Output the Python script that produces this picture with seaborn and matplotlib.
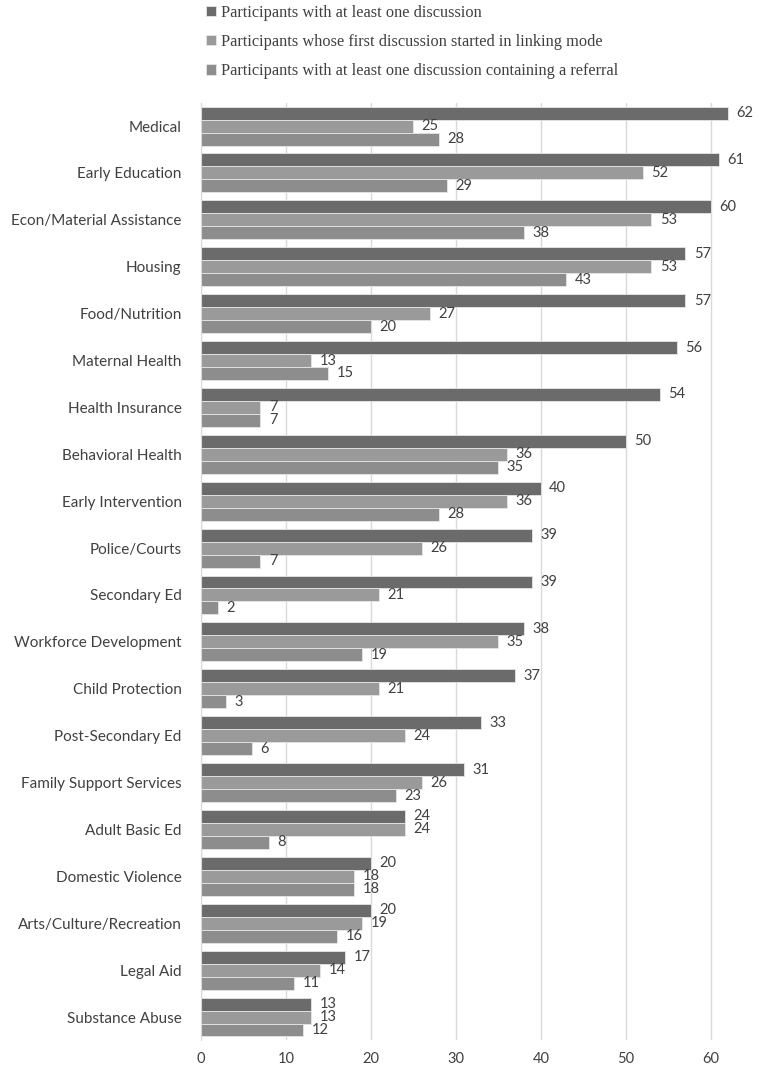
import matplotlib
matplotlib.use("Agg")
import matplotlib.pyplot as plt
import pandas as pd
import seaborn as sns

categorias = [
    "Medical", "Early Education", "Econ/Material Assistance", "Housing",
    "Food/Nutrition", "Maternal Health", "Health Insurance", "Behavioral Health",
    "Early Intervention", "Police/Courts", "Secondary Ed", "Workforce Development",
    "Child Protection", "Post-Secondary Ed", "Family Support Services",
    "Adult Basic Ed", "Domestic Violence", "Arts/Culture/Recreation",
    "Legal Aid", "Substance Abuse",
]
al_menos_una = [62, 61, 60, 57, 57, 56, 54, 50, 40, 39, 39, 38, 37, 33, 31, 24, 20, 20, 17, 13]
modo_linking = [25, 52, 53, 53, 27, 13, 7, 36, 36, 26, 21, 35, 21, 24, 26, 24, 18, 19, 14, 13]
con_referral = [28, 29, 38, 43, 20, 15, 7, 35, 28, 7, 2, 19, 3, 6, 23, 8, 18, 16, 11, 12]

series = [
    "Participants with at least one discussion",
    "Participants whose first discussion started in linking mode",
    "Participants with at least one discussion containing a referral",
]
colores = ["#6b6b6b", "#9a9a9a", "#8d8d8d"]

df = pd.DataFrame({
    "categoria": categorias * 3,
    "serie": [series[0]] * 20 + [series[1]] * 20 + [series[2]] * 20,
    "valor": al_menos_una + modo_linking + con_referral,
})

sns.set_style("white")
plt.rcParams["font.family"] = ["Lato", "DejaVu Sans"]

fig = plt.figure(figsize=(7.67, 10.71), dpi=100)
ax = fig.add_axes([0.262, 0.0285, 0.738, 0.8757])

sns.barplot(data=df, y="categoria", x="valor", hue="serie", orient="h",
            palette=colores, width=0.83, edgecolor="#e6e6e6", linewidth=0.6,
            ax=ax, legend=True)

for cont in ax.containers:
    ax.bar_label(cont, padding=6, fontsize=10.5, color="#404040")

ax.set_xlim(0, 66.6)
ax.set_xticks(range(0, 61, 10))
ax.grid(axis="x", color="#d9d9d9", linewidth=1)
ax.set_axisbelow(True)
for lado in ["top", "right", "bottom"]:
    ax.spines[lado].set_visible(False)
ax.spines["left"].set_color("#d9d9d9")
ax.set_xlabel("")
ax.set_ylabel("")
ax.tick_params(axis="y", labelsize=11, labelcolor="#404040", length=0, pad=14)
ax.tick_params(axis="x", labelsize=10.5, labelcolor="#404040", length=0, pad=8)

handles, labels = ax.get_legend_handles_labels()
ax.get_legend().remove()
fig.legend(handles, labels, loc="upper left", bbox_to_anchor=(0.262, 1.0),
           frameon=False, prop={"family": "Liberation Serif", "size": 11.8},
           labelcolor="#404040", handlelength=0.6, handleheight=0.6,
           handletextpad=0.3, labelspacing=0.8, borderaxespad=0.1,
           borderpad=0.2)

fig.savefig("out.png", dpi=100)
